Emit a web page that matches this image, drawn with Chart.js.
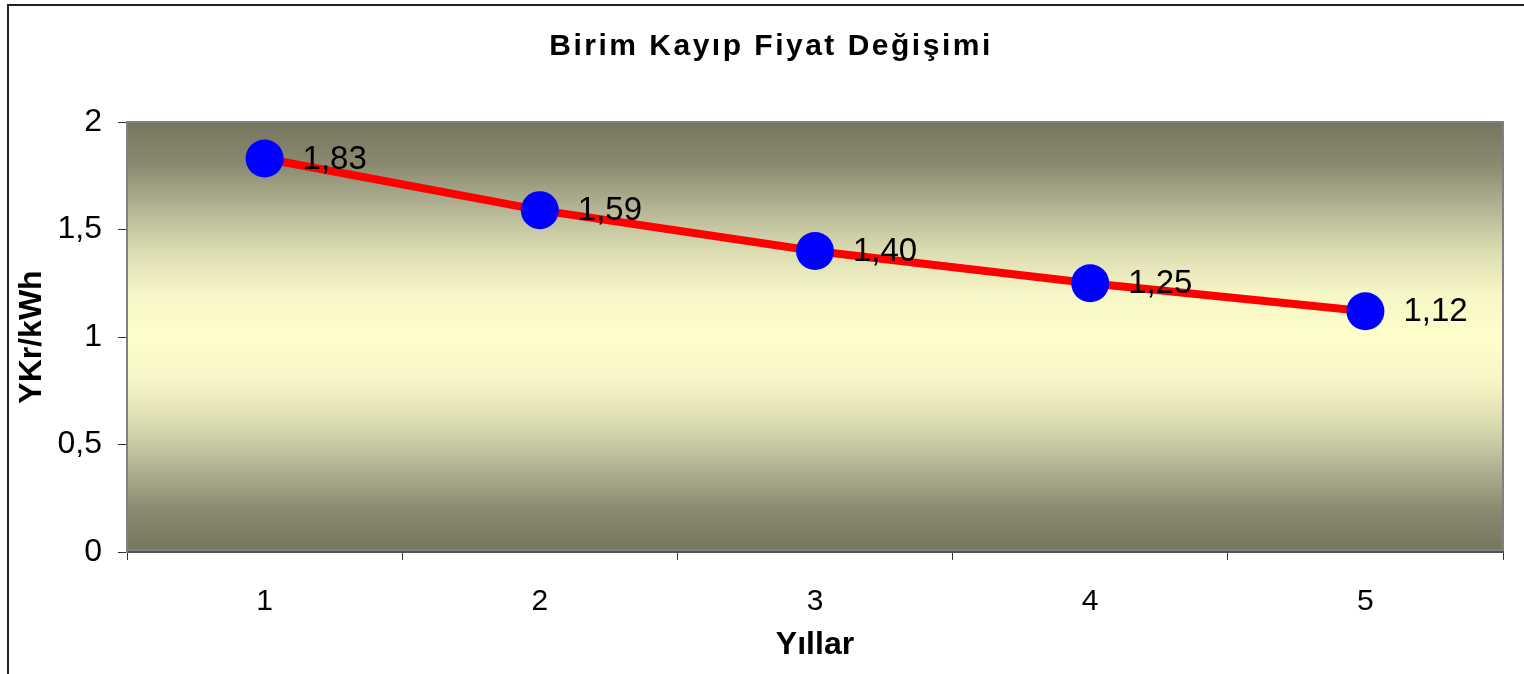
<!DOCTYPE html>
<html>
<head>
<meta charset="utf-8">
<script src="https://cdn.jsdelivr.net/npm/chart.js@4.4.1/dist/chart.umd.min.js"></script>
<style>
  html, body { margin: 0; padding: 0; background: #fff; }
  canvas { display: block; }
</style>
</head>
<body>
<canvas id="lossChart" width="1524" height="674"></canvas>
<script>
// data
const years = ["1", "2", "3", "4", "5"];
const prices = [1.83, 1.59, 1.40, 1.25, 1.12];
const chartTitle = "Birim Kayıp Fiyat Değişimi";
const yTitle = "YKr/kWh";
const xTitle = "Yıllar";

const FONT = "'Liberation Sans', Arial, sans-serif";

const comma = (v) => String(v).replace(".", ",");

// white page, outer frame, olive/yellow plot background
const background = {
  id: "background",
  beforeDraw: (chart) => {
    const ctx = chart.ctx;
    const a = chart.chartArea;
    ctx.save();
    ctx.fillStyle = "#fff";
    ctx.fillRect(0, 0, chart.width, chart.height);

    ctx.strokeStyle = "#222";
    ctx.lineWidth = 2;
    ctx.beginPath();
    ctx.moveTo(8, chart.height + 2);
    ctx.lineTo(8, 5);
    ctx.lineTo(chart.width + 2, 5);
    ctx.stroke();

    const g = ctx.createLinearGradient(0, a.top, 0, a.bottom);
    g.addColorStop(0, "#767660");
    g.addColorStop(0.1, "#8a8a70");
    g.addColorStop(0.2, "#b4b494");
    g.addColorStop(0.3, "#dcdcb2");
    g.addColorStop(0.4, "#f6f6c6");
    g.addColorStop(0.5, "#ffffcc");
    g.addColorStop(0.6, "#f6f6c6");
    g.addColorStop(0.7, "#dcdcb2");
    g.addColorStop(0.8, "#b4b494");
    g.addColorStop(0.9, "#8a8a70");
    g.addColorStop(1, "#767660");
    ctx.fillStyle = g;
    ctx.fillRect(a.left, a.top, a.right - a.left, a.bottom - a.top - 2);

    ctx.strokeStyle = "#808080";
    ctx.lineWidth = 2;
    ctx.strokeRect(a.left, a.top, a.right - a.left, a.bottom - a.top - 2);
    ctx.restore();
  },
  afterDraw: (chart) => {
    // spaced-out bold title
    const ctx = chart.ctx;
    ctx.save();
    ctx.font = "bold 30px " + FONT;
    ctx.letterSpacing = "2.5px";
    ctx.fillStyle = "#000";
    ctx.textAlign = "center";
    ctx.textBaseline = "middle";
    ctx.fillText(chartTitle, 771, 47);
    ctx.restore();
  },
};

// value labels to the right of each point
const valueLabels = {
  id: "valueLabels",
  afterDatasetsDraw: (chart) => {
    const ctx = chart.ctx;
    const meta = chart.getDatasetMeta(0);
    ctx.save();
    ctx.font = "33px " + FONT;
    ctx.fillStyle = "#000";
    ctx.textAlign = "left";
    ctx.textBaseline = "middle";
    meta.data.forEach((pt, i) => {
      ctx.fillText(prices[i].toFixed(2).replace(".", ","), pt.x + 38, pt.y + 1);
    });
    ctx.restore();
  },
};

new Chart(document.getElementById("lossChart"), {
  type: "line",
  data: {
    labels: years,
    datasets: [
      {
        data: prices,
        borderColor: "#ff0000",
        borderWidth: 8,
        tension: 0,
        pointRadius: 19,
        pointHoverRadius: 19,
        pointBackgroundColor: "#0000ff",
        pointBorderWidth: 0,
      },
    ],
  },
  options: {
    responsive: false,
    animation: false,
    layout: {
      padding: { top: 122, right: 21, left: 0, bottom: 0 },
    },
    scales: {
      x: {
        type: "category",
        offset: true,
        grid: {
          offset: true,
          drawOnChartArea: false,
          tickLength: 8,
          color: "#333",
        },
        border: { color: "#555", width: 2 },
        ticks: {
          font: { family: FONT, size: 30 },
          color: "#000",
          padding: 24,
        },
        title: {
          display: true,
          text: xTitle,
          font: { family: FONT, size: 32, weight: "bold" },
          color: "#000",
          padding: { top: 0, bottom: 10 },
        },
        afterFit: (s) => {
          s.height = 122;
        },
      },
      y: {
        min: 0,
        max: 2,
        grid: {
          drawOnChartArea: false,
          tickLength: 9,
          color: "#333",
        },
        border: { color: "#808080", width: 2 },
        ticks: {
          stepSize: 0.5,
          font: { family: FONT, size: 32 },
          color: "#000",
          padding: 16,
          callback: (v) => comma(v),
        },
        title: {
          display: true,
          text: yTitle,
          font: { family: FONT, size: 32, weight: "bold" },
          color: "#000",
          padding: { top: 13, bottom: 0 },
        },
        afterFit: (s) => {
          s.width = 127;
        },
      },
    },
    plugins: {
      legend: { display: false },
      tooltip: { enabled: false },
    },
  },
  plugins: [background, valueLabels],
});
</script>
</body>
</html>
